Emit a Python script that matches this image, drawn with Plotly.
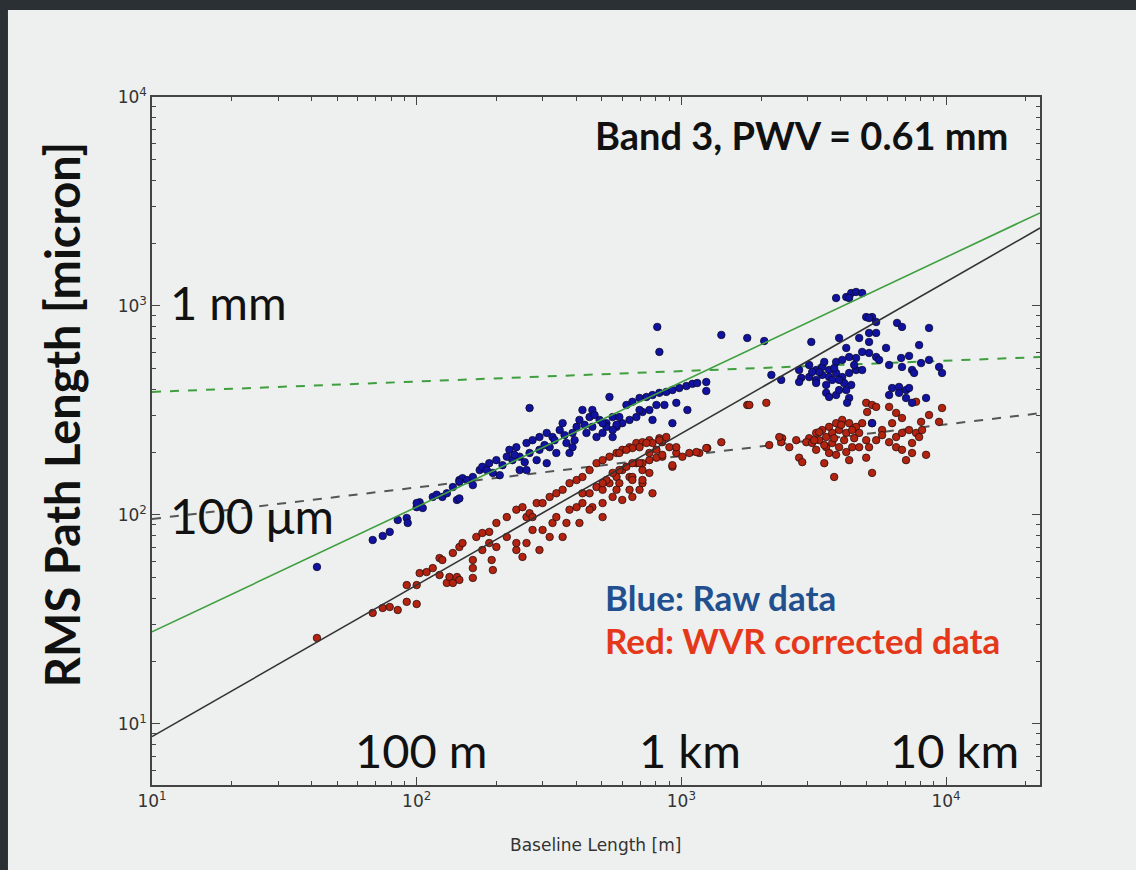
import plotly.graph_objects as go

# ---------------- data ----------------
blue_baseline = [
    42.0, 68.2, 74.4, 79.1, 84.8, 91.7, 92.5, 100, 102.6, 105.4, 115, 119, 125, 130, 137, 145, 149, 142, 145, 100,
    145, 155, 163, 163, 173, 177, 188, 194, 200, 206, 219, 224, 230, 238, 245, 245, 260, 260, 267, 274,
    284, 291, 291, 310, 310, 318, 326, 337, 347, 356, 368, 378, 388, 388, 402, 412, 423, 438, 450, 461,
    461, 478, 491, 504, 521, 535, 550, 569, 267,
    184, 211, 234, 256, 304, 332, 362, 395, 431, 470,
    811, 826, 1416, 1774, 620, 653, 695, 738, 778, 826, 877, 925, 982, 1045, 1101, 1148, 1242, 1242, 1054, 925,
    957, 863, 805, 757, 713, 676, 637, 598, 569, 550, 521, 504, 550, 583, 695, 778,
    2056, 2188, 2384, 3097, 3843, 4197, 4383, 4572, 4821, 4305, 4993, 5255, 5445, 5119, 3945, 4697, 5119, 5445, 5119,
    6530, 6818, 8627, 7912, 5935, 4197, 3041, 3230, 3404, 3616, 3843, 4052, 4305, 4572, 4821, 5119, 5445, 5588,
    2786, 2837, 3041, 3230, 3404, 3616, 3843, 4052, 4305, 4572, 4821, 3230, 3525, 3715, 3525, 3616, 3843, 4197,
    4305, 4230, 3945, 2786, 6095, 6766, 7251, 6818, 7440, 7575, 8049, 8627, 9413, 9660, 6257, 6645, 7062, 7251,
    6645, 7062, 7440, 6095, 8407, 5255,
    3318, 3779, 4121, 3467, 4498, 3121, 3945, 4383,
]
blue_rms = [
    56.4, 75.9, 79.4, 83.0, 94.6, 96.8, 91.6, 109, 115, 108, 122, 125, 122, 127, 136, 147, 150, 118, 120, 114,
    144, 147, 152, 139, 164, 170, 177, 159, 183, 155, 190, 205, 183, 211, 190, 164, 221, 164, 198, 228,
    183, 236, 205, 247, 177, 211, 236, 198, 255, 275, 221, 198, 247, 211, 264, 285, 318, 247, 294, 318,
    264, 236, 285, 247, 275, 367, 294, 264, 325,
    164, 173, 194, 179, 216, 228, 241, 228, 270, 301,
    794, 603, 727, 703, 336, 348, 363, 367, 375, 384, 388, 396, 405, 414, 424, 428, 433, 392, 318, 275,
    344, 336, 336, 318, 311, 294, 285, 275, 270, 255, 264, 275, 236, 294, 318, 285,
    680, 468, 443, 673, 1092, 1104, 1153, 1167, 1153, 1092, 885, 885, 838, 876, 703, 703, 743, 743, 673,
    830, 794, 785, 650, 630, 630, 522, 494, 511, 494, 540, 552, 570, 564, 603, 596, 570, 552,
    494, 453, 457, 443, 468, 457, 478, 457, 478, 494, 494, 428, 419, 443, 384, 367, 375, 396,
    363, 344, 396, 433, 522, 564, 577, 511, 494, 478, 533, 552, 511, 478, 405, 410, 396, 405,
    384, 363, 344, 375, 363, 275,
    483, 505, 428, 540, 522, 483, 443, 419,
]

red_baseline = [
    42.0, 68.2, 74.4, 79.1, 84.8, 91.7, 100, 91.7, 100, 102.6, 109, 115, 122, 122, 130, 133, 137, 142, 145, 137,
    145, 149, 125, 163, 163, 194, 192, 163, 168, 177, 188, 200, 219, 238, 251, 260, 267, 284, 299, 318,
    337, 356, 378, 402, 423, 450, 478, 504, 535, 569, 598, 637, 676, 713, 757, 826, 847, 238, 238, 251,
    260, 274, 291, 299, 318, 326, 337, 356, 368, 378, 402, 423, 423, 450, 461, 478, 504, 535, 569, 569,
    598, 637, 637, 676, 713, 713, 757, 778, 805, 847, 901, 925, 957, 1009, 1072, 1169, 1253, 1416, 1774, 412,
    450, 504, 504, 550, 598, 653, 695, 653, 713, 274, 219, 200, 177, 188,
    1140, 957, 925, 877, 826, 778, 738, 695, 653, 620, 583, 757, 805, 847, 695, 653, 620, 583, 550, 757,
    713, 653, 521, 583, 504,
    2094, 1807, 4993, 5255, 5445, 5035, 6095, 6477, 6818, 7705, 8627, 9660, 9413, 8049, 6257, 5733, 5255, 4821,
    4572, 4305, 4052, 3843, 3616, 3404, 3230, 3041, 2965, 3121, 3318, 3525, 3715, 3945, 4197, 4420, 4697,
    3230, 3525, 3715, 3945, 3616, 3843, 4197, 4420, 4305, 4697, 4993, 5119, 2786, 2863, 3467, 3779, 4993, 5255,
    2404, 2558, 2716, 2148, 2384, 5445, 5733, 6095, 6477, 6818, 7251, 7705, 6477, 6818, 7440, 7912, 8119,
    7062, 7440, 8407, 2344, 1242,
    3177, 3467, 3779, 4121, 4498, 3318, 4018,
]
red_rms = [
    25.8, 34.0, 35.9, 36.3, 35.1, 38.4, 37.5, 46.2, 46.2, 52.7, 53.3, 55.7, 62.2, 51.6, 47.3, 50.5, 47.3, 50.5, 48.9, 65.8,
    70.3, 73.4, 60.9, 55.7, 50.0, 54.5, 60.9, 60.9, 78.5, 82.0, 83.0, 91.6, 97.7, 106, 109, 97.7, 102, 114, 114, 122,
    127, 132, 142, 147, 152, 164, 177, 183, 190, 198, 205, 211, 221, 223, 228, 233, 223, 68.0, 73.4, 63.0,
    73.4, 84.8, 68.0, 84.8, 78.5, 91.6, 97.7, 78.5, 91.6, 106, 109, 114, 127, 127, 109, 136, 132, 142, 152, 132,
    164, 152, 132, 177, 164, 142, 183, 127, 205, 190, 211, 170, 198, 190, 198, 198, 209, 223, 336, 91.6,
    106, 114, 97.7, 122, 118, 122, 132, 152, 177, 97.7, 78.5, 70.3, 68.0, 73.4,
    200, 211, 173, 236, 228, 221, 221, 211, 209, 205, 198, 198, 188, 194, 177, 177, 170, 164, 159, 159,
    147, 147, 147, 142, 142,
    344, 336, 344, 336, 329, 311, 329, 308, 291, 348, 301, 325, 279, 279, 275, 255, 275, 275,
    264, 275, 285, 275, 264, 255, 247, 233, 223, 221, 228, 236, 247, 255, 247, 255, 247,
    205, 211, 221, 211, 198, 194, 200, 211, 183, 211, 228, 211, 188, 179, 177, 152, 188, 159,
    233, 211, 228, 216, 223, 228, 241, 223, 236, 247, 255, 247, 211, 205, 221, 236, 255,
    183, 198, 194, 236, 209,
    228, 216, 233, 228, 233, 249, 270,
]

# fitted relations: values at the left and right plot edges
line_baseline = [10, 22650]
green_solid_rms = [27.6, 2790]
black_solid_rms = [8.7, 2360]
green_dash_rms = [388, 570]
black_dash_rms = [95.7, 307]

x_tickvals = [10, 100, 1000, 10000]
x_ticktext = ["10<sup>1</sup>", "10<sup>2</sup>", "10<sup>3</sup>", "10<sup>4</sup>"]
y_tickvals = [10, 100, 1000, 10000]
y_ticktext = ["10<sup>1</sup>", "10<sup>2</sup>", "10<sup>3</sup>", "10<sup>4</sup>"]

# minor ticks at 2..9 of each decade
x_minor = [m * 10 ** d for d in (1, 2, 3, 4) for m in range(2, 10) if m * 10 ** d < 22650]
y_minor = [m * 10 ** d for d in (0, 1, 2, 3) for m in range(2, 10) if m * 10 ** d > 5.1]

# ---------------- figure ----------------
BG = "#eef0ef"
fig = go.Figure()

fig.add_trace(go.Scatter(x=line_baseline, y=green_dash_rms, mode="lines",
                         line=dict(color="#3f9f3f", width=2, dash="dash"), hoverinfo="skip"))
fig.add_trace(go.Scatter(x=line_baseline, y=black_dash_rms, mode="lines",
                         line=dict(color="#555555", width=2, dash="dash"), hoverinfo="skip"))
fig.add_trace(go.Scatter(x=red_baseline, y=red_rms, mode="markers",
                         marker=dict(size=7.5, color="#b3230f", line=dict(color="#2a1010", width=0.8))))
fig.add_trace(go.Scatter(x=blue_baseline, y=blue_rms, mode="markers",
                         marker=dict(size=7.5, color="#1212a0", line=dict(color="#0a0a30", width=0.8))))
fig.add_trace(go.Scatter(x=line_baseline, y=green_solid_rms, mode="lines",
                         line=dict(color="#3f9f3f", width=1.6), hoverinfo="skip"))
fig.add_trace(go.Scatter(x=line_baseline, y=black_solid_rms, mode="lines",
                         line=dict(color="#333333", width=1.6), hoverinfo="skip"))

axis_common = dict(
    type="log", showgrid=False, zeroline=False, showline=True, linecolor="#444444", linewidth=1.5,
    mirror="allticks", ticks="inside", ticklen=8, tickcolor="#444444", tickwidth=1,
    tickfont=dict(family="DejaVu Sans", size=17, color="#333333"),
)
fig.update_xaxes(range=[1, 4.355], tickvals=x_tickvals, ticktext=x_ticktext,
                 minor=dict(tickvals=x_minor, ticks="inside", ticklen=4, tickcolor="#444444", showgrid=False),
                 **axis_common)
fig.update_yaxes(range=[0.708, 4], tickvals=y_tickvals, ticktext=y_ticktext,
                 minor=dict(tickvals=y_minor, ticks="inside", ticklen=4, tickcolor="#444444", showgrid=False),
                 **axis_common)

SLIDE = "Lato"
ann = []
ann.append(dict(text="<b>Band 3, PWV = 0.61 mm</b>", x=0.966, y=0.945, xanchor="right", yanchor="middle",
                font=dict(family=SLIDE, size=38, color="#111111")))
ann.append(dict(text="1 mm", x=0.018, y=0.702, xanchor="left", yanchor="middle",
                font=dict(family=SLIDE, size=47, color="#111111")))
ann.append(dict(text="100 μm", x=0.018, y=0.392, xanchor="left", yanchor="middle",
                font=dict(family=SLIDE, size=48, color="#111111")))
ann.append(dict(text="100 m", x=0.303, y=0.051, xanchor="center", yanchor="middle",
                font=dict(family=SLIDE, size=47, color="#111111")))
ann.append(dict(text="1 km", x=0.606, y=0.051, xanchor="center", yanchor="middle",
                font=dict(family=SLIDE, size=47, color="#111111")))
ann.append(dict(text="10 km", x=0.904, y=0.051, xanchor="center", yanchor="middle",
                font=dict(family=SLIDE, size=47, color="#111111")))
ann.append(dict(text="<b>Blue: Raw data</b>", x=0.508, y=0.273, xanchor="left", yanchor="middle",
                font=dict(family=SLIDE, size=35, color="#224f8e")))
ann.append(dict(text="<b>Red: WVR corrected data</b>", x=0.508, y=0.211, xanchor="left", yanchor="middle",
                font=dict(family=SLIDE, size=35, color="#e5381a")))
ann.append(dict(text="<b>RMS Path Length [micron]</b>", x=-0.101, y=0.538, xanchor="center", yanchor="middle",
                textangle=-90, font=dict(family=SLIDE, size=47, color="#111111")))
ann.append(dict(text="Baseline Length [m]", x=0.499, y=-0.087, xanchor="center", yanchor="middle",
                font=dict(family="DejaVu Sans", size=17, color="#333333")))
for a in ann:
    a.update(xref="paper", yref="paper", showarrow=False)

fig.update_layout(
    width=1136, height=870,
    margin=dict(l=152, r=96, t=97, b=85),
    paper_bgcolor=BG, plot_bgcolor=BG,
    showlegend=False,
    annotations=ann,
    shapes=[
        dict(type="rect", xref="paper", yref="paper", x0=-0.18, x1=1.12, y0=1.1265, y1=1.15,
             fillcolor="#2b3034", line=dict(width=0), layer="below"),
        dict(type="rect", xref="paper", yref="paper", x0=-0.18, x1=-0.1622, y0=-0.15, y1=1.15,
             fillcolor="#2b3034", line=dict(width=0), layer="below"),
    ],
)

fig.write_html("out.html")
